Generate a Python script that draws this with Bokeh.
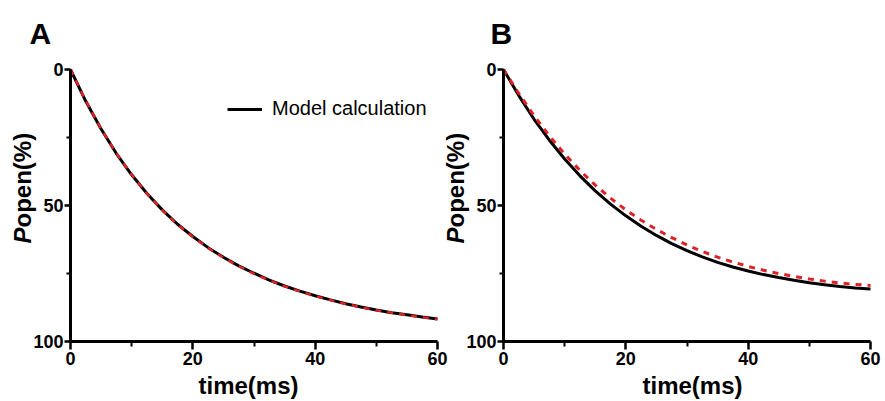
import math
from bokeh.plotting import figure
from bokeh.models import Range1d, FixedTicker, Label, Legend, LegendItem, LinearAxis
from bokeh.embed import file_html
from bokeh.resources import INLINE

# time axis (ms)
time_ms = [0, 2.5, 5, 7.5, 10, 12.5, 15, 17.5, 20, 22.5, 25, 27.5, 30,
           32.5, 35, 37.5, 40, 42.5, 45, 47.5, 50, 52.5, 55, 57.5, 60]

# Panel A: Popen (%)
model_A = [0, 11.7, 21.9, 30.9, 38.7, 45.6, 51.6, 56.9, 61.4, 65.5, 69.0, 72.2, 74.9,
           77.4, 79.6, 81.5, 83.2, 84.7, 86.1, 87.3, 88.4, 89.4, 90.2, 91.0, 91.7]
exp_A = [0, 11.6, 21.8, 30.8, 38.7, 45.6, 51.7, 57.0, 61.6, 65.6, 69.2, 72.3, 75.1,
         77.5, 79.7, 81.6, 83.3, 84.8, 86.2, 87.4, 88.5, 89.4, 90.3, 91.1, 91.8]

# Panel B
model_B = [0, 9.6, 18.3, 26.0, 32.9, 39.1, 44.6, 49.5, 53.8, 57.6, 61.0, 64.0, 66.6,
           68.9, 70.9, 72.6, 74.1, 75.4, 76.5, 77.5, 78.4, 79.1, 79.8, 80.3, 80.7]
exp_B = [0, 8.8, 17.0, 24.4, 31.1, 37.1, 42.5, 47.3, 51.6, 55.4, 58.8, 61.8, 64.5,
         66.9, 69.0, 70.8, 72.4, 73.8, 75.0, 76.1, 77.0, 77.8, 78.5, 79.0, 79.4]

x_ticks = [0, 20, 40, 60]
x_minor = [10, 30, 50]
y_ticks = [0, 50, 100]
y_minor = [25, 75]
panel_letters = ["A", "B"]
legend_text = "Model calculation"
x_title = "time(ms)"

FONT = "Liberation Sans"
RED = "#dd2227"
W, H = 885, 401
PPX = 367 / 60.0    # px per ms
PPY = 272 / 100.0   # px per %
TOP = 69            # y pixel of 0 %
AX_A, AX_B = 70, 503  # x pixel of t = 0 in each panel

p = figure(width=W, height=H, output_backend="svg", toolbar_location=None,
           x_range=Range1d(-AX_A / PPX, (W - AX_A) / PPX),
           y_range=Range1d((H - TOP) / PPY, -TOP / PPY),
           x_axis_location=None, y_axis_location=None,
           min_border_left=0, min_border_right=0, min_border_top=0, min_border_bottom=0)
p.extra_x_ranges = {"B": Range1d(-AX_B / PPX, (W - AX_B) / PPX)}
p.outline_line_color = None
p.grid.visible = False
p.background_fill_color = "white"
p.border_fill_color = "white"


def panel(rname, letter, model, exp, letter_px, xtitle_px, ax_px, red_w):
    kw = {} if rname == "default" else {"x_range_name": rname}
    blk = p.line(time_ms, model, line_color="black", line_width=3, **kw)
    p.line(time_ms, exp, line_color=RED, line_width=red_w, line_dash="6 6", **kw)

    xax = LinearAxis(fixed_location=100, bounds=(0, 60),
                     ticker=FixedTicker(ticks=x_ticks, minor_ticks=x_minor), **kw)
    yax = LinearAxis(fixed_location=0, bounds=(0, 100),
                     ticker=FixedTicker(ticks=y_ticks, minor_ticks=y_minor), **kw)
    for ax in (xax, yax):
        ax.axis_line_width = 3
        ax.major_tick_line_width = 2.5
        ax.minor_tick_line_width = 2
        ax.major_tick_in = 0
        ax.minor_tick_in = 0
        ax.major_label_text_font = FONT
        ax.major_label_text_font_style = "bold"
        ax.major_label_text_font_size = "18px"
        ax.major_label_text_color = "black"
    xax.major_tick_out = 8
    xax.minor_tick_out = 5
    yax.major_tick_out = 6
    yax.minor_tick_out = 4
    xax.major_label_standoff = 2
    yax.major_label_standoff = 1
    p.add_layout(xax, "below")
    p.add_layout(yax, "left")

    # panel letter
    p.add_layout(Label(x=(letter_px - ax_px) / PPX, y=(33 - TOP) / PPY, text=letter,
                       text_font=FONT, text_font_style="bold", text_font_size="30px",
                       text_align="left", text_baseline="middle", text_color="black", **kw))
    # y title: italic P + "open(%)"
    yx = -48 / PPX
    p.add_layout(Label(x=yx, y=(243 - TOP) / PPY, text="P", angle=math.pi / 2,
                       text_font=FONT, text_font_style="bold italic", text_font_size="24px",
                       text_align="left", text_baseline="middle", text_color="black", **kw))
    p.add_layout(Label(x=yx, y=(227 - TOP) / PPY, text="open(%)", angle=math.pi / 2,
                       text_font=FONT, text_font_style="bold", text_font_size="24px",
                       text_align="left", text_baseline="middle", text_color="black", **kw))
    # x title
    p.add_layout(Label(x=(xtitle_px - ax_px) / PPX, y=(385 - TOP) / PPY, text=x_title,
                       text_font=FONT, text_font_style="bold", text_font_size="24px",
                       text_align="center", text_baseline="middle", text_color="black", **kw))
    return blk


blk_A = panel("default", panel_letters[0], model_A, exp_A, 29, 248, AX_A, 2.5)
panel("B", panel_letters[1], model_B, exp_B, 490, 692, AX_B, 3)

lg = Legend(items=[LegendItem(label=legend_text, renderers=[blk_A])], location=(227, 281))
lg.glyph_width = 35
lg.glyph_height = 20
lg.label_standoff = 10
lg.padding = 0
lg.spacing = 0
lg.margin = 0
lg.border_line_color = None
lg.background_fill_alpha = 0
lg.label_text_font = FONT
lg.label_text_font_size = "20px"
lg.label_text_color = "black"
p.add_layout(lg)

open("out.html", "w").write(file_html(p, INLINE))
